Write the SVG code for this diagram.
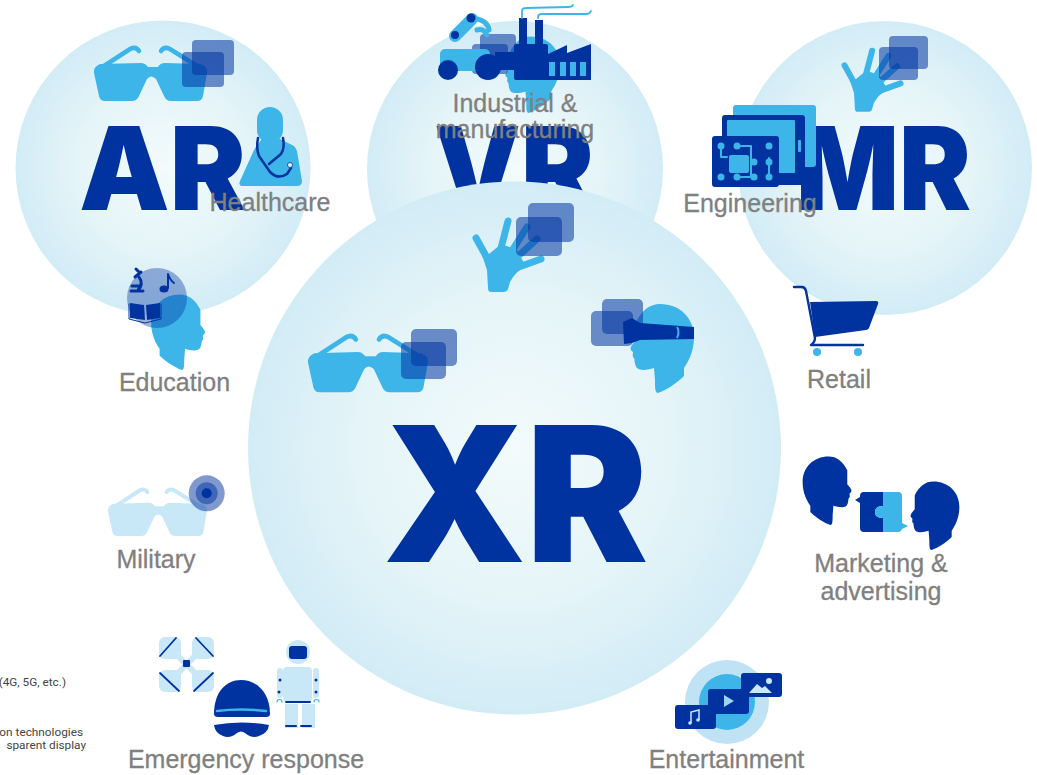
<svg xmlns="http://www.w3.org/2000/svg" xmlns:xlink="http://www.w3.org/1999/xlink" width="1037" height="775" viewBox="0 0 1037 775">
<style>
.big{font-family:Inter,"Liberation Sans",Arial,sans-serif;font-weight:900;fill:#0033a0}
.lab{font-family:"Liberation Sans",Arial,sans-serif;font-size:25px;fill:#808080;stroke:#808080;stroke-width:.3px;text-anchor:middle}
.note{font-family:Roboto,"Liberation Sans",sans-serif;font-size:11.8px;fill:#444;text-anchor:end}
.d{fill:#0033a0}.l{fill:#3db5e8}.p{fill:#c9e8f7}
.sq{fill:#0033a0;fill-opacity:.55}
.sd{fill:none;stroke:#0033a0;stroke-linecap:round;stroke-linejoin:round}
.sl{fill:none;stroke:#3db5e8;stroke-linecap:round;stroke-linejoin:round}
</style>
<defs>
<radialGradient id="g"><stop offset="0" stop-color="#f3fbfb"/><stop offset=".6" stop-color="#e4f4f8"/><stop offset="1" stop-color="#d2ecf6"/></radialGradient>
<g id="glasses" fill="currentColor">
<path d="M100 64L141 63Q145 63 148 67H158Q160 63 165 63L200 64Q208 66 207 73L203 96Q202 101 197 101H171Q166 101 164 96L156 79Q151 74 147 79L139 96Q137 101 132 101H105Q100 101 99 96L94 73Q93 67 100 64Z"/>
<path d="M104 66L130 49Q136 46 139 51M197 66L170 49Q164 46 161 51" fill="none" stroke="currentColor" stroke-width="4.500" stroke-linecap="round"/>
</g>
<g id="hand">
<path fill="currentColor" d="M481 252L489 254L500 245L507 246L517 250L520 256L526 266Q515 272 510 282L508 289Q507 292 503 292H491Q488 292 488 288L487 270Z"/>
<path fill="none" stroke="currentColor" stroke-width="7" stroke-linecap="round" stroke-linejoin="round" d="M476 238L486 256M508 221L500 252M527 227L510 254M537 239L516 258M541 259L516 268"/>
</g>
<path id="head" d="M660 304C680 304 694 318 694 337C694 352 688 362 684 368L684 376C676 384 666 390 658 393C655 393 655 388 655 380L654 368C648 370 640 371 637 368C634 364 635 360 634 358C632 357 633 354 633 352C630 350 630 348 632 345L636 340L636 322C642 310 650 304 660 304Z"/>
<g id="headset"><path class="d" d="M623 322L632 318L640 323L694 327V339L640 340L632 343L624 344Z"/><path d="M677 327Q680 332 677 338" fill="none" stroke="#3db5e8" stroke-width="2"/></g>
</defs>
<rect width="1037" height="775" fill="#fff"/>

<g id="node-ar">
<circle cx="163" cy="168" r="147.500" fill="url(#g)"/>
<text class="big" x="79" y="210" font-size="116" textLength="167" lengthAdjust="spacingAndGlyphs">AR</text>
<use href="#glasses" style="color:#3db5e8"/>
<rect class="sq" x="192" y="40" width="42" height="35" rx="4"/>
<rect class="sq" x="182" y="52" width="42" height="35" rx="4"/>
</g>
<g id="node-vr">
<circle cx="515" cy="169" r="148" fill="url(#g)"/>
<text class="big" x="434" y="210" font-size="116" textLength="160" lengthAdjust="spacingAndGlyphs">VR</text>
</g>
<g id="node-mr">
<circle cx="885" cy="168" r="147" fill="url(#g)"/>
<text class="big" x="796" y="210" font-size="116" textLength="175" lengthAdjust="spacingAndGlyphs">MR</text>
<use href="#hand" style="color:#3db5e8" transform="translate(435.200 -139.300) scale(.86)"/>
<rect class="sq" x="889" y="36" width="39" height="33" rx="4"/>
<rect class="sq" x="879" y="47" width="39" height="33" rx="4"/>
</g>
<g id="node-xr">
<circle cx="514.500" cy="448" r="266.500" fill="url(#g)"/>
<text class="big" x="383" y="562" font-size="188" textLength="265" lengthAdjust="spacingAndGlyphs">XR</text>
<use href="#hand" style="color:#3db5e8"/>
<rect class="sq" x="528" y="203" width="46" height="39" rx="5"/>
<rect class="sq" x="516" y="217" width="46" height="39" rx="5"/>
<use href="#glasses" style="color:#3db5e8" transform="translate(208.400 285.300) scale(1.060)"/>
<rect class="sq" x="411" y="329" width="46" height="37" rx="5"/>
<rect class="sq" x="401" y="342" width="45" height="37" rx="5"/>
<use href="#head" class="l"/>
<rect class="sq" x="602" y="299" width="41" height="35" rx="5"/>
<rect class="sq" x="591" y="311" width="42" height="35" rx="5"/>
<use href="#headset"/>
</g>

<g id="node-healthcare">
<rect class="l" x="257" y="107" width="26" height="36" rx="13"/>
<path class="l" d="M262 139L280 139L294 146Q296 148 297 151L302 181Q302 186 297 186H243Q238 186 240 181L254 150Q256 146 262 139Z"/>
<path class="sd" stroke-width="2.500" d="M258 138Q256 148 259 156L270 172Q278 180 287 174L291 168M283 138Q285 148 281 154L269 164"/>
<circle cx="290" cy="165" r="2.500" fill="#e6f5fa" stroke="#0033a0" stroke-width=".8"/>
<text class="lab" x="270" y="211">Healthcare</text>
</g>

<g id="node-industrial">
<use href="#head" class="l" transform="translate(-37 -225) scale(.86)"/>
<rect class="sq" x="480" y="34" width="36" height="33" rx="4"/>
<rect class="sq" x="472" y="44" width="36" height="30" rx="4"/>
<path class="sl" stroke-width="12" d="M455 36L472 19"/>
<path class="sl" stroke-width="5" d="M472 18Q488 20 489 30M477 30Q484 28 487 35"/>
<rect class="l" x="440" y="49" width="50" height="22" rx="5"/>
<circle class="d" cx="448" cy="70" r="10"/>
<circle class="d" cx="488" cy="67" r="13"/>
<circle class="d" cx="455" cy="35" r="4"/>
<circle class="d" cx="471" cy="18" r="4.500"/>
<rect class="d" x="495" y="52" width="22" height="18"/>
<rect class="d" x="519" y="18" width="8" height="30"/>
<rect class="d" x="535" y="20" width="8" height="28"/>
<rect class="d" x="514" y="44" width="34" height="36" rx="2"/>
<path class="d" d="M546 55L567 45V53L591 44V80H546Z"/>
<g class="l"><rect x="549" y="62" width="6" height="14"/><rect x="560" y="62" width="6" height="14"/><rect x="570" y="62" width="6" height="14"/><rect x="580" y="62" width="6" height="14"/></g>
<path class="sl" stroke-width="1.800" d="M522 18V11Q522 8 526 8L568 7Q572 7 573 5M538 18V17Q538 14 542 14L586 14Q590 14 591 11"/>
<text class="lab" x="515" y="112">Industrial &amp;</text>
<text class="lab" x="515" y="138">manufacturing</text>
</g>

<g id="node-engineering">
<rect class="l" x="733" y="105" width="83" height="62" rx="3"/>
<rect class="d" x="722" y="115" width="83" height="70" rx="3"/>
<rect class="l" x="727" y="120" width="68" height="53" rx="1"/>
<rect class="l" x="798" y="140" width="3" height="12" rx="1"/>
<rect class="d" x="712" y="136" width="67" height="51" rx="3"/>
<path class="sl" stroke-width="2" d="M721 146V157H727M737 146H751V177M769 158V177M737 177H754"/>
<rect class="l" x="729" y="155" width="20" height="18" rx="2"/>
<g class="l"><circle cx="721" cy="146" r="3.500"/><circle cx="737" cy="146" r="3.500"/><circle cx="769" cy="146" r="3.500"/><circle cx="721" cy="177" r="3.500"/><circle cx="737" cy="177" r="3.500"/><circle cx="754" cy="177" r="3.500"/><circle cx="769" cy="177" r="3.500"/><circle cx="754" cy="162" r="3.500"/><circle cx="769" cy="162" r="3.500"/></g>
<text class="lab" x="750" y="212">Engineering</text>
</g>

<g id="node-education">
<use href="#head" class="l" transform="translate(741 36) scale(-.85 .85)"/>
<circle cx="157" cy="298" r="30" fill="#0033a0" fill-opacity=".38"/>
<path class="d" d="M130 303L144 305L145 320L130 318ZM160 303L146 305L147 320L160 318Z"/>
<path class="sd" stroke-width="1" d="M129 304V319L145 323L161 319V304"/>
<path class="sd" stroke-width="3" d="M135 277L141 272M139 277Q144 284 138 290M131 291H143M132 286H139M136 269L139 272"/>
<ellipse class="d" cx="164" cy="289" rx="4.500" ry="3.500"/>
<path class="sd" stroke-width="2" d="M168 288V274Q170 280 174 283"/>
<text class="lab" x="174.500" y="391">Education</text>
</g>

<g id="node-retail">
<path class="d" d="M810 302L876 301Q879 301 878 304L869 328Q868 330 866 330L815 337Z"/>
<path class="sd" stroke-width="2.400" d="M794 287H802Q805 287 806 291L815 338Q815 342 811 345H863"/>
<circle class="l" cx="817" cy="352" r="4"/>
<circle class="l" cx="858" cy="352" r="4"/>
<text class="lab" x="839" y="388">Retail</text>
</g>

<g id="node-marketing">
<use href="#head" class="d" transform="translate(1337 222.400) scale(-.77 .77)"/>
<use href="#head" class="d" transform="translate(425 247.400) scale(.77)"/>
<path class="d" d="M864 492H883V506Q875 506 875 512Q875 518 883 518V532H864Q860 532 860 528V503L855 500L860 497V496Q860 492 864 492Z"/>
<path class="l" d="M883 492H898Q902 492 902 496V523L908 526L902 529Q901 532 898 532H883V518Q875 518 875 512Q875 506 883 506Z"/>
<text class="lab" x="881" y="572">Marketing &amp;</text>
<text class="lab" x="881" y="600">advertising</text>
</g>

<g id="node-military">
<use href="#glasses" style="color:#c9e8f7" transform="translate(25.600 447.600) scale(.876)"/>
<circle cx="206.700" cy="493.300" r="18" fill="#0033a0" fill-opacity=".5"/>
<circle cx="206.700" cy="493.300" r="11" fill="#0033a0" fill-opacity=".5"/>
<circle class="d" cx="206.700" cy="493.300" r="5"/>
<text class="lab" x="156" y="568">Military</text>
</g>

<g id="node-entertainment">
<circle cx="727" cy="702" r="42" fill="#bfe3f5"/>
<circle class="l" cx="727" cy="702" r="28"/>
<rect class="d" x="675" y="705" width="41" height="24" rx="3"/>
<rect class="d" x="708" y="689" width="41" height="25" rx="3"/>
<rect class="d" x="741" y="673" width="41" height="24" rx="3"/>
<path d="M724 695L734 701L724 707Z" fill="#9fd4f0"/>
<path d="M749 693L757 684L762 688L765 686L772 693Z" fill="#c9e8f7"/>
<circle cx="769" cy="681" r="3" fill="#c9e8f7"/>
<path d="M691 723V712L699 710V720" fill="none" stroke="#c9e8f7" stroke-width="1.500"/>
<circle cx="690" cy="723" r="1.800" fill="#c9e8f7"/><circle cx="698" cy="720" r="1.800" fill="#c9e8f7"/>
<text class="lab" x="726.500" y="768">Entertainment</text>
</g>

<g id="node-emergency">
<g class="p"><rect x="159" y="637" width="22" height="22" rx="6"/><rect x="192" y="637" width="22" height="22" rx="6"/><rect x="159" y="670" width="22" height="22" rx="6"/><rect x="192" y="670" width="22" height="22" rx="6"/></g>
<path d="M170 648L203 681M203 648L170 681" stroke="#c9e8f7" stroke-width="6"/>
<rect class="d" x="183" y="660" width="7" height="7" rx="1"/>
<path class="sd" stroke-width="1.800" d="M160 656L176 638M196 638L213 656M160 673L179 691M194 691L213 673"/>
<path class="d" d="M214 714C214 692 226 680 241 680C256 680 270 692 270 714Q270 717 266 717H218Q214 717 214 714Z"/>
<path class="sl" stroke-width="2.500" d="M217 711Q241 708 266 711"/>
<path class="d" d="M214 725Q241 720 269 725Q268 733 259 736Q252 739 245 733Q241 730 237 733Q230 739 223 736Q215 733 214 725Z"/>
<circle class="p" cx="298" cy="652" r="12"/>
<rect class="d" x="289" y="646" width="18" height="13" rx="3"/>
<rect class="p" x="283" y="667" width="29" height="35" rx="4"/>
<rect class="p" x="277" y="668" width="6" height="30" rx="3"/>
<rect class="p" x="313" y="668" width="6" height="30" rx="3"/>
<rect class="p" x="285" y="704" width="13" height="24"/>
<rect class="p" x="302" y="704" width="13" height="24"/>
<path class="sd" stroke-width="2" d="M286 702H310M286 726H296M301 726H311"/>
<g class="d"><circle cx="280" cy="680" r="1.500"/><circle cx="316" cy="680" r="1.500"/><circle cx="279" cy="692" r="1.500"/><circle cx="316" cy="692" r="1.500"/></g>
<path class="sl" stroke-width="1.200" d="M277 702a2.500 2.500 0 1 1 5 0M314 702a2.500 2.500 0 1 1 5 0"/>
<text class="lab" x="246" y="768">Emergency response</text>
</g>

<g id="footnotes">
<text class="note" x="66" y="686">(4G, 5G, etc.)</text>
<text class="note" x="83" y="736">on technologies</text>
<text class="note" x="86" y="749">sparent display</text>
</g>
</svg>
